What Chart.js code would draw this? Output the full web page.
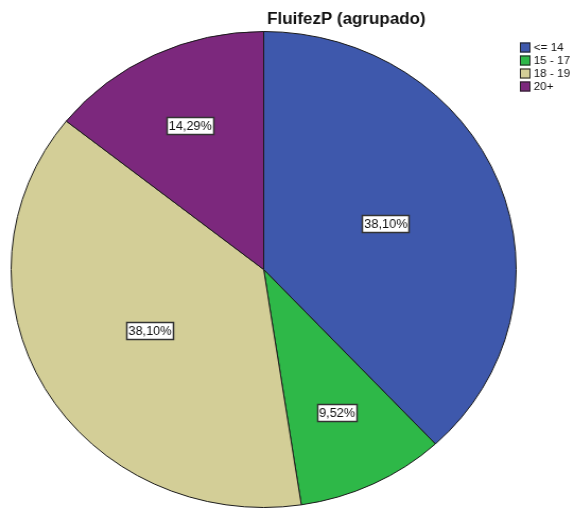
<!DOCTYPE html>
<html>
<head>
<meta charset="utf-8">
<script src="https://cdn.jsdelivr.net/npm/chart.js@4"></script>
<style>
html, body { margin: 0; padding: 0; background: #fff; overflow: hidden; }
/* the reference is slightly wider than tall, so stretch the canvas a bit */
#wrap { width: 539px; height: 510px; transform: scaleX(1.061); transform-origin: 0 0; }
</style>
</head>
<body>
<div id="wrap"><canvas id="myChart" width="539" height="510"></canvas></div>
<script>
var chartTitle = "FluifezP (agrupado)";
var categories = ["<= 14", "15 - 17", "18 - 19", "20+"];
var counts = [8, 2, 8, 3];
var sliceColors = ["#3E58AC", "#2EB848", "#D3CE97", "#7C287D"];

var FONT = '"Liberation Sans", Arial, sans-serif';

var total = counts.reduce(function(a, b) { return a + b; }, 0);

function pctText(v) {
    return (v / total * 100).toFixed(2).replace('.', ',') + '%';
}

// title + legend in the top right corner, like the SPSS output
var decorPlugin = {
    id: 'decor',
    afterDraw: function(chart) {
        var ctx = chart.ctx;
        ctx.save();
        ctx.font = 'bold 16px ' + FONT;
        ctx.fillStyle = '#111';
        ctx.textAlign = 'center';
        ctx.textBaseline = 'alphabetic';
        ctx.fillText(chartTitle, 326.5, 24);

        ctx.font = '11px ' + FONT;
        ctx.textAlign = 'left';
        ctx.textBaseline = 'middle';
        for (var i = 0; i < categories.length; i++) {
            var y = 47.5 + i * 13;
            ctx.fillStyle = sliceColors[i];
            ctx.fillRect(490, y - 5, 10, 10);
            ctx.strokeStyle = '#222';
            ctx.lineWidth = 1;
            ctx.strokeRect(490.5, y - 4.5, 9, 9);
            ctx.fillStyle = '#111';
            ctx.fillText(categories[i], 503, y + 0.5);
        }
        ctx.restore();
    }
};

// boxed percentage labels inside the slices
var pctLabelPlugin = {
    id: 'pctLabels',
    afterDatasetsDraw: function(chart) {
        var ctx = chart.ctx;
        var meta = chart.getDatasetMeta(0);
        ctx.save();
        ctx.font = '12px ' + FONT;
        ctx.textAlign = 'center';
        ctx.textBaseline = 'middle';
        meta.data.forEach(function(arc, i) {
            var p = arc.getProps(['x', 'y', 'startAngle', 'endAngle', 'outerRadius'], true);
            var mid = (p.startAngle + p.endAngle) / 2;
            var share = counts[i] / total;
            var frac = share < 0.2 ? 0.67 : 0.52;
            var lx = p.x + Math.cos(mid) * p.outerRadius * frac;
            var ly = p.y + Math.sin(mid) * p.outerRadius * frac;
            var txt = pctText(counts[i]);
            var bw = Math.round(ctx.measureText(txt).width + 4);
            var bh = 18;
            var bx = Math.round(lx - bw / 2), by = Math.round(ly - bh / 2);
            ctx.fillStyle = '#fff';
            ctx.fillRect(bx, by, bw, bh);
            ctx.strokeStyle = '#333';
            ctx.lineWidth = 1.5;
            ctx.strokeRect(bx + 0.5, by + 0.5, bw - 1, bh - 1);
            ctx.fillStyle = '#111';
            ctx.fillText(txt, lx, by + bh / 2 + 0.5);
        });
        ctx.restore();
    }
};

var ctx = document.getElementById('myChart').getContext('2d');
var myChart = new Chart(ctx, {
    type: 'pie',
    data: {
        labels: categories,
        datasets: [{
            data: counts,
            backgroundColor: sliceColors,
            borderColor: '#1a1a1a',
            borderWidth: 1
        }]
    },
    options: {
        responsive: false,
        animation: false,
        events: [],
        layout: {
            padding: { left: 10, right: 52, top: 31, bottom: 2 }
        },
        plugins: {
            legend: { display: false },
            title: { display: false },
            tooltip: { enabled: false }
        }
    },
    plugins: [pctLabelPlugin, decorPlugin]
});
</script>
</body>
</html>
